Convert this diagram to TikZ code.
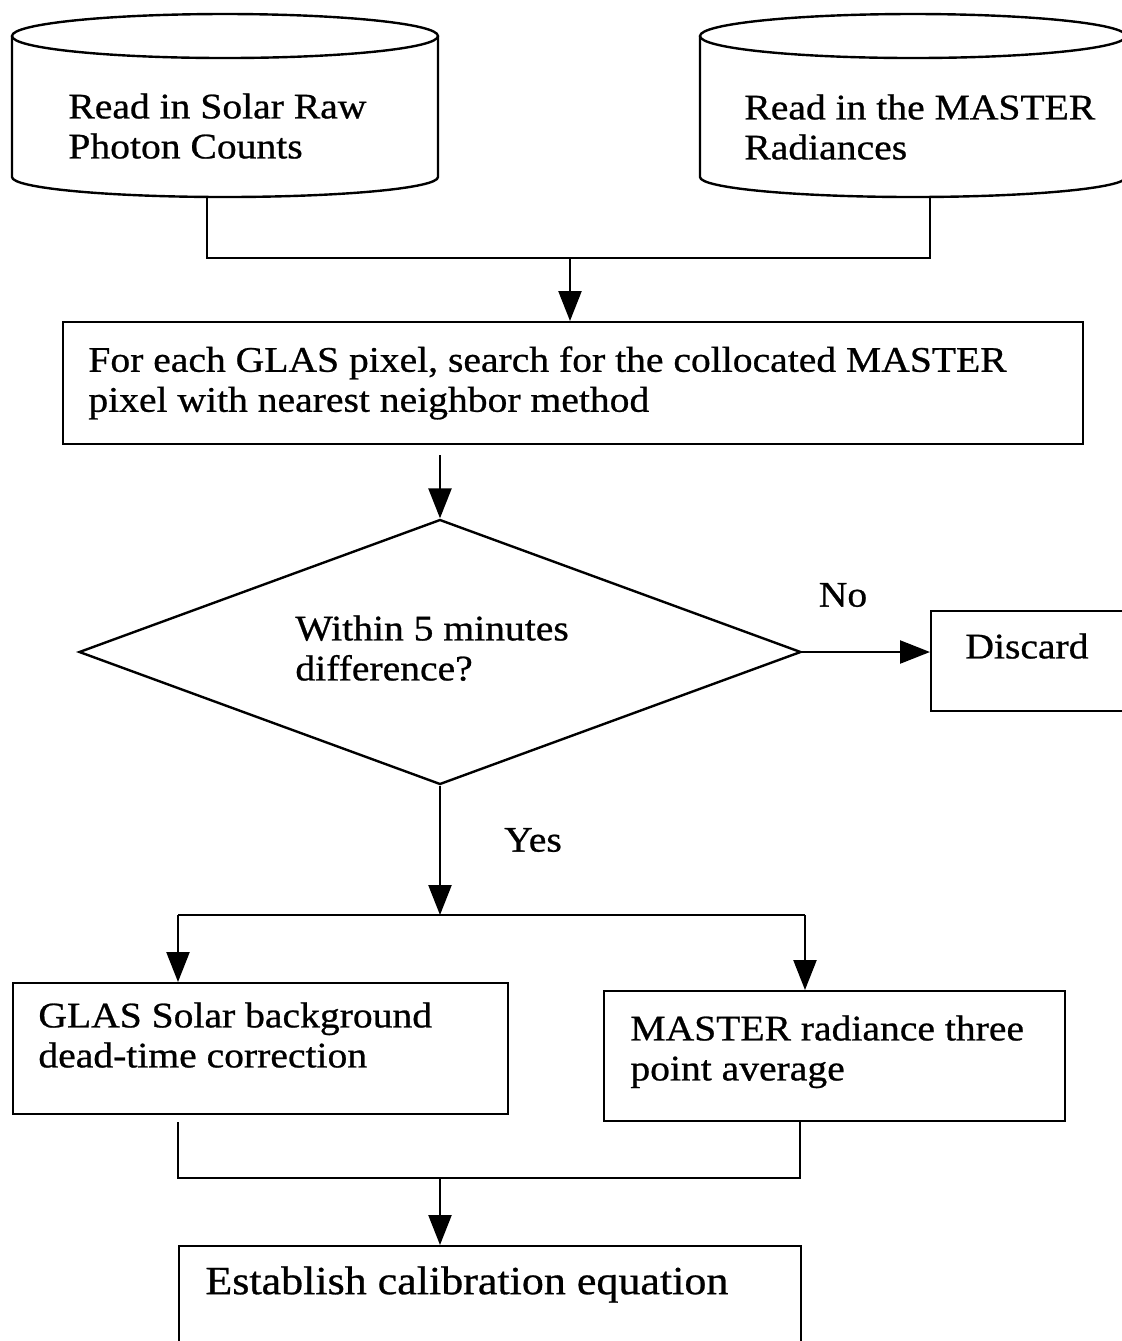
\documentclass[tikz,border=0pt]{standalone}
\usepackage{fontspec}
\setmainfont{Liberation Serif}[FakeStretch=1.1,FakeBold=0.7]
\usetikzlibrary{shapes.geometric,arrows.meta}
\tikzset{
  flow/.style={line width=1.2pt},
  arr/.style={flow,-{Triangle[width=11.5pt,length=15pt]}},
  procbox/.style={draw,line width=1.2pt,anchor=north west,inner sep=0pt},
  txt/.style={anchor=north west,inner sep=0pt,align=left,font=\fontsize{18}{20}\selectfont},
  lbl/.style={inner sep=0pt,font=\fontsize{18}{20}\selectfont},
}
\begin{document}
\begin{tikzpicture}[x=0.5pt,y=-0.5pt]
  \fill[white] (0,0) rectangle (1122,1341);
  \useasboundingbox (0,0) rectangle (1122,1341);

  % Two input data stores
  \draw[flow] (12,36) -- (12,177) arc[start angle=180,end angle=0,x radius=213,y radius=20] -- (438,36);
  \draw[flow] (225,36) ellipse [x radius=213, y radius=22];
  \node[txt] (solartxt) at (68,93) {Read in Solar Raw\\Photon Counts};

  \draw[flow] (700,36) -- (700,177) arc[start angle=180,end angle=0,x radius=213,y radius=20] -- (1126,36);
  \draw[flow] (913,36) ellipse [x radius=213, y radius=22];
  \node[txt] (mastertxt) at (744,94) {Read in the MASTER\\Radiances};

  % Process boxes
  \node[procbox,minimum width=510pt,minimum height=61pt] (pixbox) at (62,321) {};
  \node[txt] (pixtxt) at (88,346) {For each GLAS pixel, search for the collocated MASTER\\pixel with nearest neighbor method};

  \node[draw,diamond,line width=1.2pt,inner sep=0pt,minimum width=361pt,minimum height=132.5pt] (check) at (440,652) {};
  \node[txt] (checktxt) at (295,615) {Within 5 minutes\\difference?};

  \node[procbox,minimum width=110pt,minimum height=50pt] (discard) at (930,610) {};
  \node[txt] (discardtxt) at (965,633) {Discard};

  \node[procbox,minimum width=247.5pt,minimum height=65.5pt] (glas) at (12,982) {};
  \node[txt] (glastxt) at (38,1002) {GLAS Solar background\\dead-time correction};

  \node[procbox,minimum width=230.5pt,minimum height=65pt] (avg) at (603,990) {};
  \node[txt] (avgtxt) at (630,1015) {MASTER radiance three\\point average};

  \node[procbox,minimum width=311pt,minimum height=60pt] (calib) at (178,1245) {};
  \node[txt,font=\fontsize{20}{22}\selectfont] (calibtxt) at (205,1266) {Establish calibration equation};

  % Connectors
  \coordinate (solarbot) at (207,197);
  \coordinate (masterbot) at (930,197);
  \coordinate (join) at (570,258);
  \draw[flow] (solarbot) |- (join) -| (masterbot);
  \draw[arr] (join) -- (join |- pixbox.north);

  \coordinate (gap) at (440,455);
  \draw[arr] (gap) -- (check.north);

  \draw[arr] (check.east) -- (check.east -| discard.west);
  \node[lbl] (nolbl) at (843,595) {No};

  \coordinate (split) at (440,915);
  \coordinate (splitL) at (178,915);
  \coordinate (splitR) at (805,915);
  \draw[arr] (check.south) -- (split);
  \draw[flow] (splitL) -- (splitR);
  \draw[arr] (splitL) -- (splitL |- glas.north);
  \draw[arr] (splitR) -- (splitR |- avg.north);
  \node[lbl] (yeslbl) at (533,840) {Yes};

  \coordinate (mergeL) at (178,1122);
  \coordinate (mergeR) at (800,1120);
  \coordinate (merge) at (440,1178);
  \draw[flow] (mergeL) |- (merge) -| (mergeR);
  \draw[arr] (merge) -- (calib.north -| merge);
\end{tikzpicture}
\end{document}
